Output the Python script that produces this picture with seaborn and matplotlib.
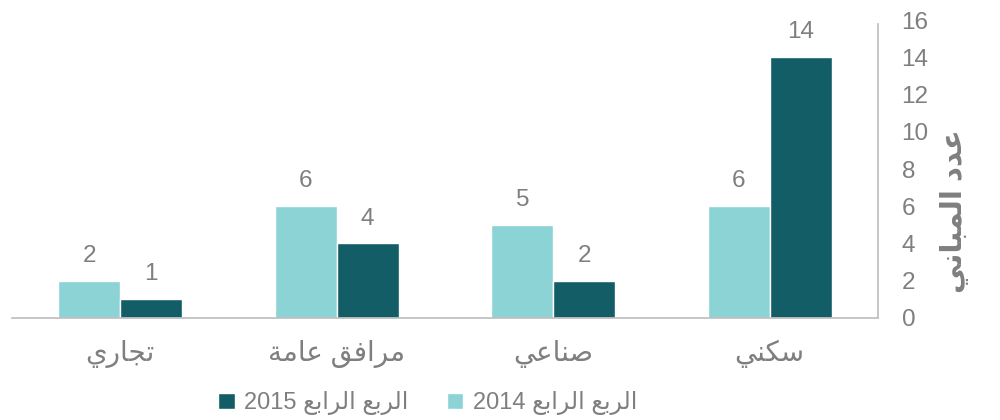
import pandas as pd
import seaborn as sns
import matplotlib.pyplot as plt

sns.set_theme(style='white')
plt.rcParams['font.family'] = ['Liberation Sans', 'DejaVu Sans']

# --- data ---
categories = ['تجاري', 'مرافق عامة', 'صناعي', 'سكني']
q4_2014 = [2, 6, 5, 6]
q4_2015 = [1, 4, 2, 14]
series_2014 = 'الربع الرابع 2014'
series_2015 = 'الربع الرابع 2015'
y_label = 'عدد المباني'
y_ticks = [0, 2, 4, 6, 8, 10, 12, 14, 16]

# --- minimal Arabic shaping (matplotlib has no bidi/shaping) ---
# char: (isolated, final, initial, medial); right-joining letters have only two forms
FORMS = {
    'ا': ('\uFE8D', '\uFE8E'), 'د': ('\uFEA9', '\uFEAA'), 'ر': ('\uFEAD', '\uFEAE'),
    'ة': ('\uFE93', '\uFE94'),
    'ب': ('\uFE8F', '\uFE90', '\uFE91', '\uFE92'), 'ت': ('\uFE95', '\uFE96', '\uFE97', '\uFE98'),
    'ج': ('\uFE9D', '\uFE9E', '\uFE9F', '\uFEA0'), 'س': ('\uFEB1', '\uFEB2', '\uFEB3', '\uFEB4'),
    'ص': ('\uFEB9', '\uFEBA', '\uFEBB', '\uFEBC'), 'ع': ('\uFEC9', '\uFECA', '\uFECB', '\uFECC'),
    'ف': ('\uFED1', '\uFED2', '\uFED3', '\uFED4'), 'ق': ('\uFED5', '\uFED6', '\uFED7', '\uFED8'),
    'ك': ('\uFED9', '\uFEDA', '\uFEDB', '\uFEDC'), 'ل': ('\uFEDD', '\uFEDE', '\uFEDF', '\uFEE0'),
    'م': ('\uFEE1', '\uFEE2', '\uFEE3', '\uFEE4'), 'ن': ('\uFEE5', '\uFEE6', '\uFEE7', '\uFEE8'),
    'ي': ('\uFEF1', '\uFEF2', '\uFEF3', '\uFEF4'),
}


def shape_word(word):
    out = []
    for i, ch in enumerate(word):
        if ch not in FORMS:
            out.append(ch)
            continue
        prev = word[i - 1] if i > 0 else None
        nxt = word[i + 1] if i + 1 < len(word) else None
        joins_prev = prev in FORMS and len(FORMS[prev]) == 4
        joins_next = nxt in FORMS and len(FORMS[ch]) == 4
        f = FORMS[ch]
        if joins_prev and joins_next:
            out.append(f[3])
        elif joins_prev:
            out.append(f[1])
        elif joins_next:
            out.append(f[2])
        else:
            out.append(f[0])
    return ''.join(out)


def ar(text):
    # shape Arabic words, reverse to visual order, keep numbers to the left
    words = text.split(' ')
    arabic = [w for w in words if not w.isdigit()]
    nums = [w for w in words if w.isdigit()]
    vis = ' '.join(shape_word(w) for w in arabic)[::-1]
    return ' '.join(nums + [vis]) if nums else vis


c_light = '#8cd3d6'
c_dark = '#135e66'
grey = '#7f7f7f'

df = pd.DataFrame({
    'cat': [ar(c) for c in categories] * 2,
    'val': q4_2014 + q4_2015,
    'series': [ar(series_2014)] * 4 + [ar(series_2015)] * 4,
})

fig, ax = plt.subplots(figsize=(10, 4.2), dpi=100)
fig.subplots_adjust(left=0.012, right=0.878, top=0.952, bottom=0.243)

sns.barplot(data=df, x='cat', y='val', hue='series',
            palette=[c_light, c_dark], width=0.572, saturation=1,
            ax=ax, legend=True)

for cont in ax.containers:
    ax.bar_label(cont, padding=10, fontsize=17.5, color=grey)

ax.set_ylim(0, 16)
ax.set_xlim(-0.5, 3.5)
ax.set_yticks(y_ticks)
ax.yaxis.tick_right()
ax.yaxis.set_label_position('right')
ax.tick_params(axis='y', length=0, pad=17, labelsize=17.5, labelcolor=grey)
ax.tick_params(axis='x', length=0, pad=16, labelsize=20, labelcolor=grey)
for lab in ax.get_yticklabels():
    lab.set_horizontalalignment('left')
ax.set_ylabel(ar(y_label), fontsize=21, color=grey, fontweight='bold')
ax.yaxis.set_label_coords(1.072, 0.36)
ax.set_xlabel('')

for s in ['top', 'left']:
    ax.spines[s].set_visible(False)
ax.spines['bottom'].set_color('#bfbfbf')
ax.spines['right'].set_color('#bfbfbf')
ax.spines['right'].set_bounds(0, 15.8)

handles, labels = ax.get_legend_handles_labels()
ax.legend(handles[::-1], labels[::-1], loc='upper center', bbox_to_anchor=(0.48, -0.175),
          ncol=2, frameon=False, fontsize=17, labelcolor=grey,
          handlelength=0.7, handleheight=0.7, handletextpad=0.4, columnspacing=1.6)

fig.savefig('out.png', dpi=100)
